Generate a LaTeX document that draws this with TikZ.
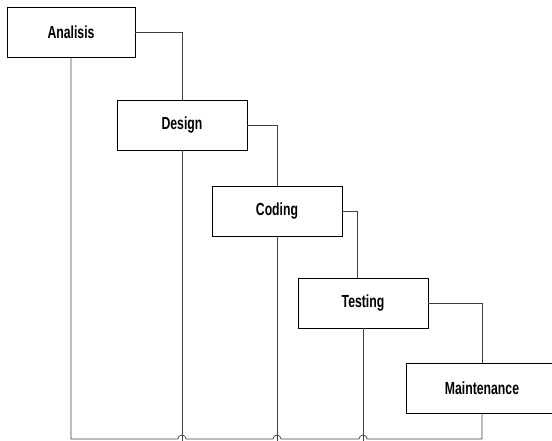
\documentclass[tikz,border=0pt]{standalone}
\usepackage{fontspec}
\setmainfont{Liberation Sans}[FakeStretch=0.7]
\usetikzlibrary{positioning}

\begin{document}
\begin{tikzpicture}[x=1pt,y=-1pt,
    phase/.style={draw, line width=0.8pt, minimum width=130pt,
        minimum height=50pt, inner sep=0pt, font=\fontsize{17.5}{20}\selectfont\bfseries},
    link/.style={draw, line width=0.7pt, black!75}]
    \useasboundingbox (0,0) rectangle (552,441);

    \node[phase, minimum width=128pt] (ana) at (71,32)  {Analisis};
    \node[phase] (des) at (182,125) {Design};
    \node[phase] (cod) at (277,211) {Coding};
    \node[phase] (tes) at (363,303) {Testing};
    \node[phase, minimum width=152pt] (mai) at (482,388) {Maintenance};

    % forward links
    \draw[link] (ana.east) -| (des.north);
    \draw[link] (des.east) -| (cod.north);
    \draw[link] (cod.east) -| ([xshift=-6pt]tes.north);
    \draw[link] (tes.east) -| (mai.north);

    % feedback lines
    \coordinate (base) at (0,439);
    \draw[link] (des.south) -- ([yshift=-4pt]des.south |- base);
    \draw[link] (cod.south) -- ([yshift=-4pt]cod.south |- base);
    \draw[link] (tes.south) -- ([yshift=-4pt]tes.south |- base);
    \draw[link] (ana.south) -- (ana.south |- base)
        -- ([xshift=-4pt]des.south |- base) arc[start angle=180, end angle=0, radius=4pt]
        -- ([xshift=-4pt]cod.south |- base) arc[start angle=180, end angle=0, radius=4pt]
        -- ([xshift=-4pt]tes.south |- base) arc[start angle=180, end angle=0, radius=4pt]
        -- (mai.south |- base) -- (mai.south);

\end{tikzpicture}
\end{document}
